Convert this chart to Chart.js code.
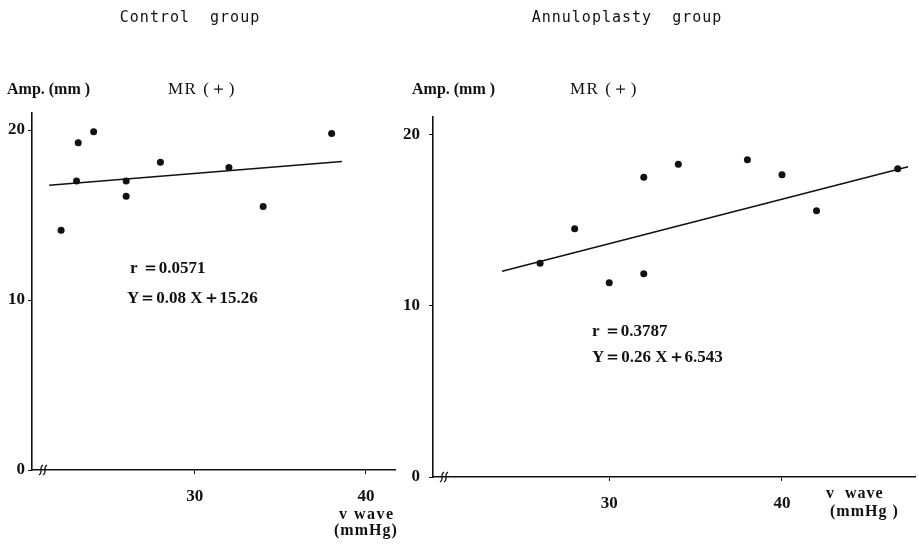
<!DOCTYPE html>
<html>
<head>
<meta charset="utf-8">
<script src="https://cdn.jsdelivr.net/npm/chart.js@4.4.1/dist/chart.umd.min.js"></script>
<style>
  html, body { margin: 0; padding: 0; background: #fff; }
  #wrap { position: relative; width: 919px; height: 544px; overflow: hidden; }
  canvas { position: absolute; top: 0; }
  #chart-control { left: 0; }
  #chart-annulo { left: 395px; }
</style>
</head>
<body>
<div id="wrap">
  <canvas id="chart-control" width="400" height="544"></canvas>
  <canvas id="chart-annulo" width="524" height="544"></canvas>
</div>
<script>
// Control group, MR(+)
const controlX = [22.2, 23.2, 24.1, 23.1, 26.0, 26.0, 28.0, 32.0, 34.0, 38.0];
const controlY = [14.1, 19.25, 19.9, 17.0, 17.0, 16.1, 18.1, 17.8, 15.5, 19.8];
const controlFitX = [21.5, 38.6];
const controlFitY = [16.75, 18.15];

// Annuloplasty group, MR(+)
const annuloX = [26, 28, 30, 32, 32, 34, 38, 40, 42, 46.7];
const annuloY = [12.47, 14.48, 11.33, 11.85, 17.49, 18.25, 18.5, 17.63, 15.53, 17.98];
const annuloFitX = [23.8, 47.3];
const annuloFitY = [12.0, 18.1];

const xTicks = [30, 40];
const yTicks = [0, 10, 20];

const ink = "#111";
const serif = "'Liberation Serif', 'DejaVu Serif', serif";
const mono = "'DejaVu Sans Mono', monospace";

const toPoints = (xs, ys) => xs.map((x, i) => ({ x: x, y: ys[i] }));

// free text + axis break marks
function makeTextPlugin(items) {
  return {
    id: "texts",
    afterDraw(chart) {
      const ctx = chart.ctx;
      ctx.save();
      ctx.fillStyle = ink;
      ctx.textBaseline = "middle";
      items.forEach((t) => {
        ctx.font = t.font;
        ctx.letterSpacing = t.spacing || "0px";
        ctx.textAlign = t.align || "left";
        ctx.fillText(t.text, t.x, t.y);
      });
      // break mark on x axis
      const a = chart.chartArea;
      const bx = a.left + 9;
      const by = a.bottom;
      ctx.strokeStyle = ink;
      ctx.lineWidth = 1.2;
      [0, 4].forEach((d) => {
        ctx.beginPath();
        ctx.moveTo(bx + d - 2, by + 5);
        ctx.bezierCurveTo(bx + d + 3, by + 2, bx + d - 3, by - 2, bx + d + 2, by - 5);
        ctx.stroke();
      });
      ctx.restore();
    },
  };
}

function makeChart(canvas, pts, fit, cfg) {
  return new Chart(canvas, {
    type: "scatter",
    data: {
      datasets: [
        {
          data: pts,
          pointRadius: 3.5,
          backgroundColor: ink,
          borderWidth: 0,
        },
        {
          data: fit,
          showLine: true,
          pointRadius: 0,
          borderColor: ink,
          borderWidth: 1.6,
        },
      ],
    },
    options: {
      responsive: false,
      animation: false,
      layout: { padding: cfg.padding },
      plugins: {
        legend: { display: false },
        tooltip: { enabled: false },
      },
      scales: {
        x: {
          type: "linear",
          min: cfg.xMin,
          max: cfg.xMax,
          afterBuildTicks: (s) => {
            s.ticks = xTicks.map((v) => ({ value: v }));
          },
          afterFit: (s) => {
            s.height = 40;
          },
          grid: { drawOnChartArea: false, tickLength: 4, color: ink },
          border: { color: ink, width: 1.6 },
          ticks: {
            color: ink,
            padding: cfg.xPad,
            font: { family: serif, size: 17, weight: "bold" },
          },
        },
        y: {
          min: 0,
          max: 21,
          afterBuildTicks: (s) => {
            s.ticks = yTicks.map((v) => ({ value: v }));
          },
          afterFit: (s) => {
            s.width = cfg.yWidth;
          },
          grid: { drawOnChartArea: false, tickLength: 4, color: ink },
          border: { color: ink, width: 1.6 },
          ticks: {
            color: ink,
            padding: cfg.yPad,
            font: { family: serif, size: 17, weight: "bold" },
          },
        },
      },
    },
    plugins: [makeTextPlugin(cfg.texts)],
  });
}

const titleFont = "15px " + mono;
const headFont = "bold 16px " + serif;
const mrFont = "17px " + serif;
const noteFont = "bold 17px " + serif;
const unitFont = "bold 16px " + serif;

const chartControl = makeChart(
  document.querySelector("#chart-control"),
  toPoints(controlX, controlY),
  toPoints(controlFitX, controlFitY),
  {
    xMin: 20.5,
    xMax: 41.7,
    yWidth: 32,
    yPad: 3,
    xPad: 12,
    padding: { left: 0, right: 5, top: 113, bottom: 34 },
    texts: [
      { text: "Control  group", x: 190, y: 18, font: titleFont, spacing: "1px", align: "center" },
      { text: "Amp. (mm )", x: 7, y: 90, font: headFont },
      { text: "MR (＋)", x: 168, y: 90, font: mrFont, spacing: "1.5px" },
      { text: "r ＝0.0571", x: 130, y: 269, font: noteFont },
      { text: "Y＝0.08 X＋15.26", x: 127, y: 299, font: noteFont },
      { text: "v wave", x: 339, y: 515, font: unitFont, spacing: "1.5px" },
      { text: "(mmHg)", x: 334, y: 531, font: unitFont, spacing: "1px" },
    ],
  }
);

const chartAnnulo = makeChart(
  document.querySelector("#chart-annulo"),
  toPoints(annuloX, annuloY),
  toPoints(annuloFitX, annuloFitY),
  {
    xMin: 19.8,
    xMax: 47.7,
    yWidth: 38,
    yPad: 9,
    xPad: 12,
    padding: { left: 0, right: 0, top: 117, bottom: 27 },
    texts: [
      { text: "Annuloplasty  group", x: 232, y: 18, font: titleFont, spacing: "1px", align: "center" },
      { text: "Amp. (mm )", x: 17, y: 90, font: headFont },
      { text: "MR (＋)", x: 175, y: 90, font: mrFont, spacing: "1.5px" },
      { text: "r ＝0.3787", x: 197, y: 332, font: noteFont },
      { text: "Y＝0.26 X＋6.543", x: 197, y: 358, font: noteFont },
      { text: "v  wave", x: 431, y: 494, font: unitFont, spacing: "1px" },
      { text: "(mmHg )", x: 435, y: 512, font: unitFont, spacing: "1px" },
    ],
  }
);
</script>
</body>
</html>
